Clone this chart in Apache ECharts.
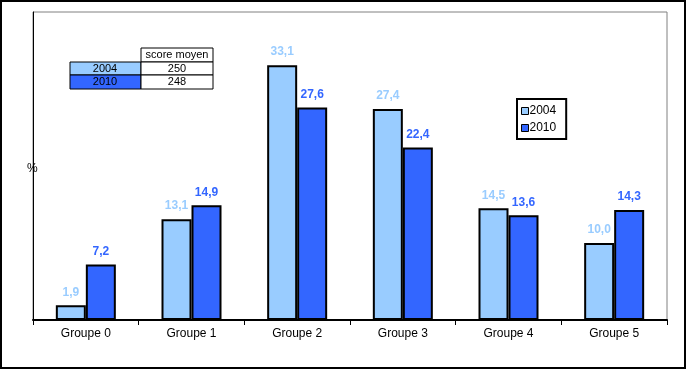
<!DOCTYPE html>
<html><head><meta charset="utf-8">
<script src="https://cdn.jsdelivr.net/npm/echarts@6/dist/echarts.min.js"></script>
<style>html,body{margin:0;padding:0;background:#fff}#c{width:687px;height:371px}</style>
</head><body><div id="c"></div>
<script>
var categories = ['Groupe 0','Groupe 1','Groupe 2','Groupe 3','Groupe 4','Groupe 5'];
var values2004 = [1.9, 13.1, 33.1, 27.4, 14.5, 10.0];
var values2010 = [7.2, 14.9, 27.6, 22.4, 13.6, 14.3];
var seriesNames = ['2004','2010'];
var tableHeader = 'score moyen';
var scores = [250, 248];

var c1 = '#99CCFF', c2 = '#3366FF';
var chart = echarts.init(document.getElementById('c'));
function fmt(p){ return p.value.toFixed(1).replace('.', ','); }
var F = 'Arial, "Liberation Sans", sans-serif';
chart.setOption({
  animation: false,
  grid: {left: 33, right: 20, top: 12, bottom: 51, show: true, borderColor: '#808080', borderWidth: 1},
  legend: {
    data: seriesNames, orient: 'vertical', left: 517, top: 99,
    icon: 'rect',
    itemWidth: 7, itemHeight: 7, itemGap: 5,
    padding: [6, 10, 5, 4],
    borderColor: '#000', borderWidth: 2,
    textStyle: {fontFamily: F, fontSize: 12, color: '#000', padding: [0,0,0,-4]},
    itemStyle: {borderColor: '#000', borderWidth: 1}
  },
  xAxis: {
    type: 'category', data: categories,
    axisLine: {lineStyle: {color: '#000', width: 2}},
    axisTick: {show: true, length: 5, lineStyle: {color: '#000', width: 1}},
    axisLabel: {fontFamily: F, fontSize: 12, color: '#000', margin: 8}
  },
  yAxis: {
    type: 'value', min: 0, max: 40, interval: 40,
    axisLine: {show: true, lineStyle: {color: '#000', width: 1}},
    axisTick: {show: false}, axisLabel: {show: false}, splitLine: {show: false}
  },
  series: [
    {name: seriesNames[0], type: 'bar', data: values2004, barWidth: 30, barGap: '0%',
     itemStyle: {color: c1, borderColor: '#000', borderWidth: 2},
     label: {show: true, position: 'top', distance: 7, formatter: fmt, color: c1, fontWeight: 'bold', fontFamily: F, fontSize: 12}},
    {name: seriesNames[1], type: 'bar', data: values2010, barWidth: 30,
     itemStyle: {color: c2, borderColor: '#000', borderWidth: 2},
     label: {show: true, position: 'top', distance: 7, formatter: fmt, color: c2, fontWeight: 'bold', fontFamily: F, fontSize: 12}}
  ],
  graphic: [
    {type: 'rect', shape: {x: 1, y: 1, width: 684, height: 367}, style: {fill: null, stroke: '#000', lineWidth: 2}, z: 100},
    {type: 'text', left: 27, top: 163, style: {text: '%', font: '12px ' + F, fill: '#000'}},
    {type: 'rect', shape: {x: 141, y: 48, width: 72, height: 14}, style: {fill: '#fff', stroke: '#000', lineWidth: 1}},
    {type: 'rect', shape: {x: 70, y: 62, width: 71, height: 13}, style: {fill: c1, stroke: '#000', lineWidth: 1}},
    {type: 'rect', shape: {x: 141, y: 62, width: 72, height: 13}, style: {fill: '#fff', stroke: '#000', lineWidth: 1}},
    {type: 'rect', shape: {x: 70, y: 75, width: 71, height: 14}, style: {fill: c2, stroke: '#000', lineWidth: 1}},
    {type: 'rect', shape: {x: 141, y: 75, width: 72, height: 14}, style: {fill: '#fff', stroke: '#000', lineWidth: 1}},
    {type: 'text', x: 177, y: 55, style: {text: tableHeader, font: '11px ' + F, fill: '#000', align: 'center', verticalAlign: 'middle'}},
    {type: 'text', x: 105, y: 69, style: {text: seriesNames[0], font: '11px ' + F, fill: '#000', align: 'center', verticalAlign: 'middle'}},
    {type: 'text', x: 177, y: 69, style: {text: String(scores[0]), font: '11px ' + F, fill: '#000', align: 'center', verticalAlign: 'middle'}},
    {type: 'text', x: 105, y: 82, style: {text: seriesNames[1], font: '11px ' + F, fill: '#000', align: 'center', verticalAlign: 'middle'}},
    {type: 'text', x: 177, y: 82, style: {text: String(scores[1]), font: '11px ' + F, fill: '#000', align: 'center', verticalAlign: 'middle'}}
  ]
});
</script></body></html>
